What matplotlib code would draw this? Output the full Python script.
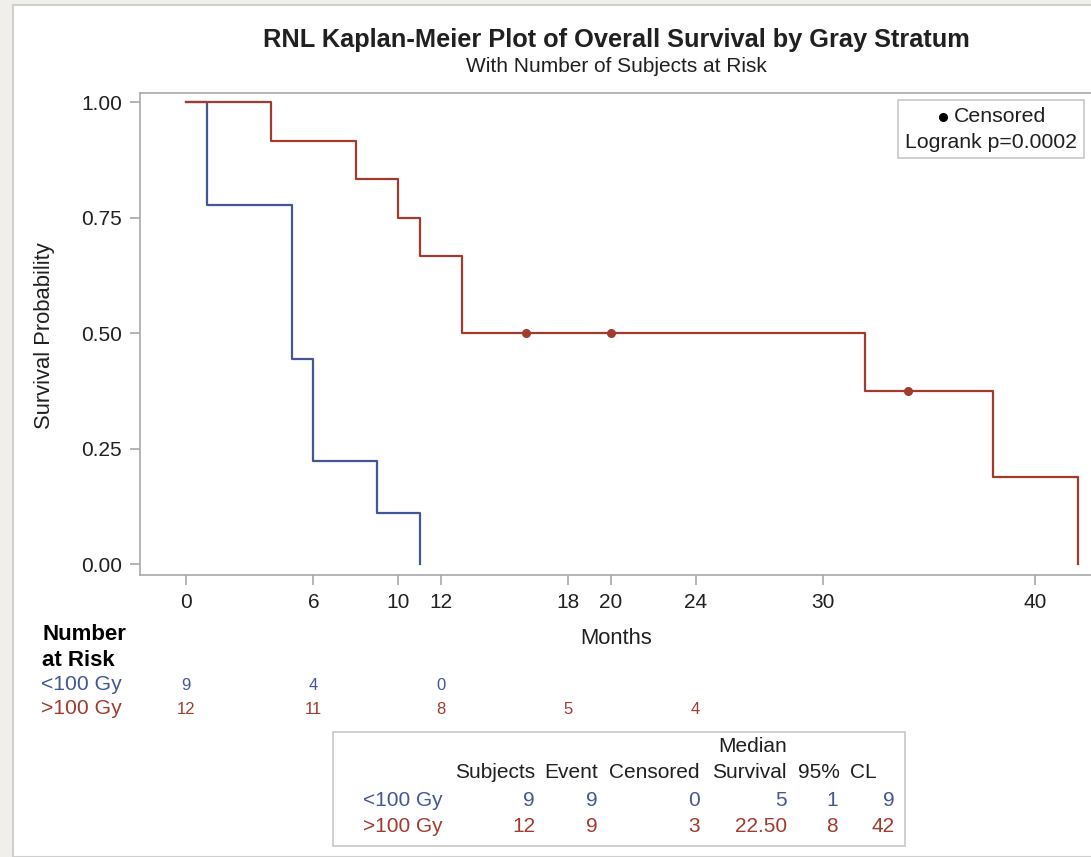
import matplotlib
matplotlib.use("Agg")
import numpy as np
import matplotlib.pyplot as plt
from matplotlib.patches import Rectangle
from matplotlib.lines import Line2D
from matplotlib import transforms

plt.rcParams['font.family'] = ['Liberation Sans', 'DejaVu Sans']

# survival curves (step values)
low_times = [0, 1, 5, 6, 9, 11]
low_surv = [1.0, 7/9, 4/9, 2/9, 1/9, 0.0]
high_times = [0, 4, 8, 10, 11, 13, 32, 38, 42]
high_surv = [1.0, 11/12, 10/12, 9/12, 8/12, 0.5, 0.375, 0.1875, 0.0]
high_cens_t = [16, 20, 34]
high_cens_s = [0.5, 0.5, 0.375]

groups = ['<100 Gy', '>100 Gy']
risk_times = [0, 6, 12, 18, 24]
risk_low = [9, 4, 0]
risk_high = [12, 11, 8, 5, 4]

tab_cols = ['Subjects', 'Event', 'Censored', 'Survival', '95%', 'CL']
tab_low = ['9', '9', '0', '5', '1', '9']
tab_high = ['12', '9', '3', '22.50', '8', '42']

xticks = [0, 6, 10, 12, 18, 20, 24, 30, 40]
yticks = [0, 0.25, 0.5, 0.75, 1.0]

BLUE = '#445694'
RED = '#A23A2E'
TXT = '#202020'
GRID = '#a8a8a8'

W, H = 1091, 857
def fx(x): return x / W
def fy(y): return 1 - y / H

fig = plt.figure(figsize=(W/100, H/100), dpi=100)
fig.patch.set_facecolor('#f0efeb')
fig.add_artist(Rectangle((fx(13), 0), 1, fy(5), transform=fig.transFigure,
                         facecolor='white', edgecolor='#cfcfcf', lw=1.5, zorder=0))

ax = fig.add_axes([fx(140), fy(575), 1 - fx(140), (575 - 93) / H])
ax.set_xlim(-2.17, 42.63)
ax.set_ylim(-0.0238, 1.0195)
ax.set_facecolor('white')
for s in ['top', 'left', 'bottom']:
    ax.spines[s].set_color(GRID)
    ax.spines[s].set_linewidth(1.2)
ax.spines['right'].set_visible(False)

ax.step(low_times, low_surv, where='post', color=BLUE, lw=1.6)
ax.step(high_times, high_surv, where='post', color=RED, lw=1.6)
ax.plot(high_cens_t, high_cens_s, 'o', color=RED, ms=5.5, mec=RED)

ax.set_xticks(xticks)
ax.set_xticklabels([str(t) for t in xticks])
ax.set_yticks(yticks)
ax.set_yticklabels(['%.2f' % v for v in yticks])
ax.tick_params(axis='both', colors=GRID, length=7, width=1.2, labelsize=15,
               labelcolor=TXT, pad=6)

fig.text(fx(616), fy(40), 'RNL Kaplan-Meier Plot of Overall Survival by Gray Stratum',
         ha='center', va='center', fontsize=18.3, fontweight='bold', color=TXT)
fig.text(fx(616), fy(66), 'With Number of Subjects at Risk', ha='center', va='center',
         fontsize=15, color=TXT)
fig.text(fx(45), fy(336), 'Survival Probability', rotation=90, ha='center', va='center',
         fontsize=15.8, color=TXT)
fig.text(fx(616), fy(638), 'Months', ha='center', va='center', fontsize=15.8, color=TXT)

# legend box
fig.add_artist(Rectangle((fx(898), fy(158)), fx(1084) - fx(898), fy(100) - fy(158),
                         transform=fig.transFigure, facecolor='white',
                         edgecolor='#c8c8c8', lw=1.2))
fig.add_artist(Line2D([fx(943)], [fy(117)], marker='o', color='black', ms=5.5,
                      transform=fig.transFigure))
fig.text(fx(954), fy(117), 'Censored', ha='left', va='center', fontsize=15.3, color=TXT)
fig.text(fx(991), fy(143), 'Logrank p=0.0002', ha='center', va='center', fontsize=15.3, color=TXT)

# number at risk
fig.text(fx(42), fy(635), 'Number', ha='left', va='center', fontsize=16,
         fontweight='bold', color='black')
fig.text(fx(42), fy(660), 'at Risk', ha='left', va='center', fontsize=16,
         fontweight='bold', color='black')
fig.text(fx(122), fy(685), groups[0], ha='right', va='center', fontsize=15.2, color=BLUE)
fig.text(fx(122), fy(709), groups[1], ha='right', va='center', fontsize=15.2, color=RED)
trans = transforms.blended_transform_factory(ax.transData, fig.transFigure)
for t, n in zip(risk_times, risk_low):
    fig.text(t, fy(685), str(n), transform=trans, ha='center', va='center',
             fontsize=12, color=BLUE)
for t, n in zip(risk_times, risk_high):
    fig.text(t, fy(709), str(n), transform=trans, ha='center', va='center',
             fontsize=12, color=RED)

# summary table
fig.add_artist(Rectangle((fx(333), fy(846)), fx(905) - fx(333), fy(732) - fy(846),
                         transform=fig.transFigure, facecolor='white',
                         edgecolor='#c8c8c8', lw=1.2))
col_right = [535, 598, 700, 787, 838, 895]
hdr_right = [535, 598, 700, 787, 840, 877]
fig.text(fx(787), fy(746), 'Median', ha='right', va='center', fontsize=15, color=TXT)
for c, r in zip(tab_cols, hdr_right):
    fig.text(fx(r), fy(773), c, ha='right', va='center', fontsize=15, color=TXT)
fig.text(fx(443), fy(800), groups[0], ha='right', va='center', fontsize=15, color=BLUE)
fig.text(fx(443), fy(827), groups[1], ha='right', va='center', fontsize=15, color=RED)
for v, r in zip(tab_low, col_right):
    fig.text(fx(r), fy(800), v, ha='right', va='center', fontsize=15, color=BLUE)
for v, r in zip(tab_high, col_right):
    fig.text(fx(r), fy(827), v, ha='right', va='center', fontsize=15, color=RED)

fig.savefig('out.png', dpi=100, facecolor=fig.get_facecolor())
